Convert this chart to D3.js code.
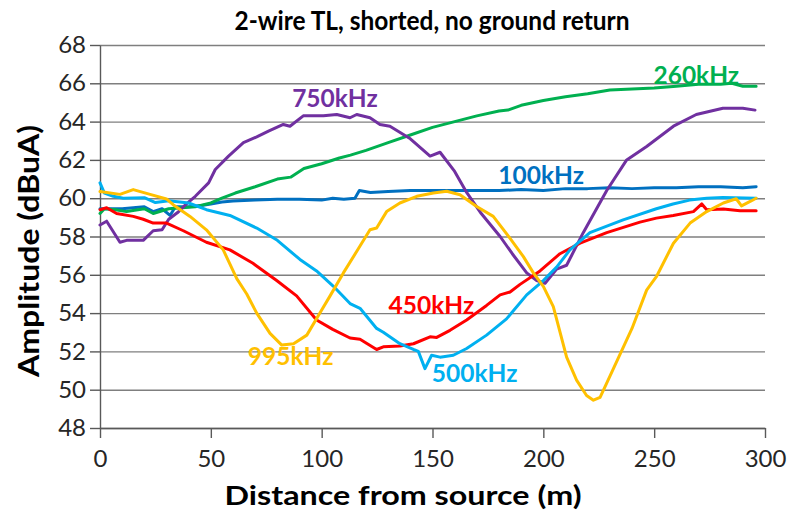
<!DOCTYPE html>
<html><head><meta charset="utf-8">
<script src="https://cdn.jsdelivr.net/npm/d3@7"></script>
<style>html,body{margin:0;padding:0;background:#fff;}svg{display:block;}</style>
</head><body>
<svg id="chart" width="792" height="514"></svg>
<script>
const titleText = "2-wire TL, shorted, no ground return";
const xTitle = "Distance from source (m)";
const yTitle = "Amplitude (dBuA)";
const xTicks = [0, 50, 100, 150, 200, 250, 300];
const yTicks = [48, 50, 52, 54, 56, 58, 60, 62, 64, 66, 68];

// 100kHz
const d100 = [0,5,10,15,20,24,28,31.6,34,40,45,50,55,60,70,80,90,100,105,110,115,117,122,130,140,150,160,170,180,190,200,210,220,230,240,250,260,270,280,290,296];
const v100 = [59.45,59.45,59.45,59.5,59.55,59.3,59.45,59.1,59.55,59.55,59.6,59.7,59.8,59.85,59.9,59.95,59.95,59.9,60.0,59.95,60.0,60.4,60.3,60.35,60.4,60.4,60.4,60.4,60.4,60.45,60.4,60.5,60.5,60.55,60.5,60.55,60.55,60.6,60.6,60.55,60.6];
// 260kHz
const d260 = [0,2,7,12,20,24,31,37,43,50,55,61,70,80,86,92,100,108,113,120,130,140,150,160,170,180,184,190,200,210,220,230,240,250,260,270,280,285,290,296];
const v260 = [59.2,59.45,59.4,59.3,59.45,59.2,59.45,59.5,59.55,59.75,60.0,60.27,60.6,61.0,61.1,61.55,61.8,62.1,62.25,62.5,62.9,63.3,63.7,64.0,64.3,64.55,64.6,64.85,65.1,65.3,65.45,65.65,65.7,65.75,65.85,65.95,65.95,66.0,65.85,65.85];
// 750kHz
const d750 = [0,3,9,12,19.5,24,28,31,35,39,43,49,52,58,64.7,70.7,76,82.7,85.7,91.7,100.8,106.8,112.8,115.8,121.8,126.3,130.8,140,148.9,153.4,160,165.4,172,180.5,186,192.5,197,200.8,206,210.5,218,228.6,237.6,246.6,258.7,269,281,290,295.5];
const v750 = [58.6,58.8,57.7,57.8,57.8,58.3,58.35,58.9,59.25,59.7,60.1,60.8,61.5,62.2,62.9,63.2,63.5,63.85,63.76,64.3,64.3,64.37,64.2,64.37,64.2,63.85,63.76,63.1,62.2,62.4,61.4,60.3,59.2,58.0,57.1,56.1,55.7,55.56,56.3,56.5,58.2,60.4,62.0,62.7,63.76,64.37,64.7,64.7,64.6];
// 450kHz
const d450 = [0,3,7.5,15,19.5,24,30,37.6,48,58.6,69,79.7,88.7,97.7,105,112.8,117.3,124.8,127.8,135.3,141.4,148.9,151.9,157.9,165.4,174.4,180.5,185,189.5,198.5,207.5,216.6,228.6,243.6,251,258.6,267.7,271.5,273.7,281.2,288.7,296];
const v450 = [59.4,59.5,59.2,59.05,58.9,58.7,58.7,58.3,57.7,57.3,56.6,55.7,54.9,53.64,53.15,52.7,52.63,52.1,52.24,52.28,52.4,52.76,52.73,53.1,53.64,54.4,54.95,55.1,55.5,56.2,57.1,57.65,58.2,58.75,58.96,59.1,59.3,59.7,59.4,59.43,59.35,59.35];
// 500kHz
const d500 = [0,2,6,10.5,20,25,31,40,48,58.6,70.7,80,90.2,97.7,105.3,112.8,117.3,124.8,127.8,135.3,141.4,143.6,146.6,149.6,153.4,159.4,165.4,174.4,183.4,192.5,200,206,212,221,236,251,258.5,266,273.7,281,296];
const v500 = [60.8,60.27,60.1,60.0,60.03,59.77,59.87,59.75,59.4,59.1,58.44,57.8,56.8,56.2,55.4,54.5,54.25,53.2,53.0,52.4,52.1,52.0,51.1,51.8,51.7,51.8,52.15,52.85,53.7,54.95,55.7,56.4,57.3,58.2,58.87,59.45,59.7,59.9,60.0,60.04,60.0];
// 995kHz
const d995 = [0,9,15,22.6,30,33,40.6,48,55.6,61.7,66.2,70.7,76.7,82,87.3,93.3,99.2,103.8,109.8,117.3,121.8,124.8,129.3,135.3,142.9,150.4,156.4,162.4,169.9,177.4,185,191,195.5,200,204.5,210.5,215,219.5,222.6,225.6,230,240,246.6,251,258.7,266.2,273.7,281.2,287,289.4,293.3,296];
const v995 = [60.35,60.2,60.45,60.2,59.96,59.66,59.05,58.35,57.3,55.8,55.0,54.0,52.94,52.33,52.4,52.85,54.0,54.9,56.1,57.5,58.35,58.44,59.3,59.75,60.1,60.27,60.36,60.18,59.57,59.05,57.9,56.95,56.1,55.4,54.34,51.7,50.5,49.7,49.45,49.6,50.7,53.2,55.2,55.9,57.65,58.7,59.3,59.75,59.97,59.6,59.83,60.0];

const seriesNames = ["100kHz","260kHz","750kHz","450kHz","500kHz","995kHz"];
const seriesX = [d100, d260, d750, d450, d500, d995];
const seriesY = [v100, v260, v750, v450, v500, v995];
const seriesColors = ["#0070C0","#00B050","#7030A0","#FF0000","#00B0F0","#FFC000"];
// label anchor positions in data units (distance, amplitude)
const labelX = [199, 269, 106, 149.5, 169, 86];
const labelY = [60.75, 65.95, 64.75, 53.95, 50.4, 51.3];

const svg = d3.select("#chart");
const font = "Lato, 'Open Sans', sans-serif";
const x = d3.scaleLinear().domain([0, 300]).range([100, 765]);
const y = d3.scaleLinear().domain([48, 68]).range([428, 45]);

// gridlines
svg.append("g").attr("transform", "translate(100,0)")
  .call(d3.axisLeft(y).tickValues(yTicks).tickSize(-665).tickFormat(""))
  .call(g => g.select(".domain").remove())
  .call(g => g.selectAll("line").attr("stroke", "#7f7f7f").attr("stroke-width", 1.4));

// y axis
svg.append("g").attr("transform", "translate(100,0)")
  .call(d3.axisLeft(y).tickValues(yTicks).tickSize(10).tickPadding(4).tickSizeOuter(0))
  .call(g => g.select(".domain").attr("stroke", "#595959").attr("stroke-width", 1.4))
  .call(g => g.selectAll("line").attr("stroke", "#595959").attr("stroke-width", 1.4))
  .call(g => g.selectAll("text").attr("font-family", font).attr("font-size", 24).attr("fill", "#262626"));

// x axis
svg.append("g").attr("transform", "translate(0,428)")
  .call(d3.axisBottom(x).tickValues(xTicks).tickSize(10).tickPadding(12).tickSizeOuter(0))
  .call(g => g.select(".domain").attr("stroke", "#595959").attr("stroke-width", 1.4))
  .call(g => g.selectAll("line").attr("stroke", "#595959").attr("stroke-width", 1.4))
  .call(g => g.selectAll("text").attr("font-family", font).attr("font-size", 24).attr("fill", "#262626"));

// lines
const line = d3.line().x(d => x(d[0])).y(d => y(d[1]));
seriesNames.forEach((name, i) => {
  const pts = seriesX[i].map((d, j) => [d, seriesY[i][j]]);
  svg.append("path").datum(pts)
    .attr("d", line)
    .attr("fill", "none")
    .attr("stroke", seriesColors[i])
    .attr("stroke-width", 3)
    .attr("stroke-linejoin", "round")
    .attr("stroke-linecap", "round");
});

// labels
seriesNames.forEach((name, i) => {
  svg.append("text")
    .attr("x", x(labelX[i])).attr("y", y(labelY[i]))
    .attr("text-anchor", "middle")
    .attr("font-family", font).attr("font-weight", "bold").attr("font-size", 24.5)
    .attr("fill", seriesColors[i])
    .text(name);
});

// title
svg.append("text").attr("x", 432).attr("y", 30)
  .attr("text-anchor", "middle")
  .attr("font-family", font).attr("font-weight", "bold").attr("font-size", 27)
  .attr("textLength", 395).attr("lengthAdjust", "spacingAndGlyphs")
  .attr("fill", "#000").text(titleText);

svg.append("text").attr("x", 403).attr("y", 505)
  .attr("text-anchor", "middle")
  .attr("font-family", font).attr("font-weight", "bold").attr("font-size", 27)
  .attr("textLength", 357).attr("lengthAdjust", "spacingAndGlyphs")
  .attr("fill", "#000").text(xTitle);

svg.append("text").attr("transform", "translate(39,251) rotate(-90)")
  .attr("text-anchor", "middle")
  .attr("font-family", font).attr("font-weight", "bold").attr("font-size", 28)
  .attr("textLength", 252).attr("lengthAdjust", "spacingAndGlyphs")
  .attr("fill", "#000").text(yTitle);
</script>
</body></html>
